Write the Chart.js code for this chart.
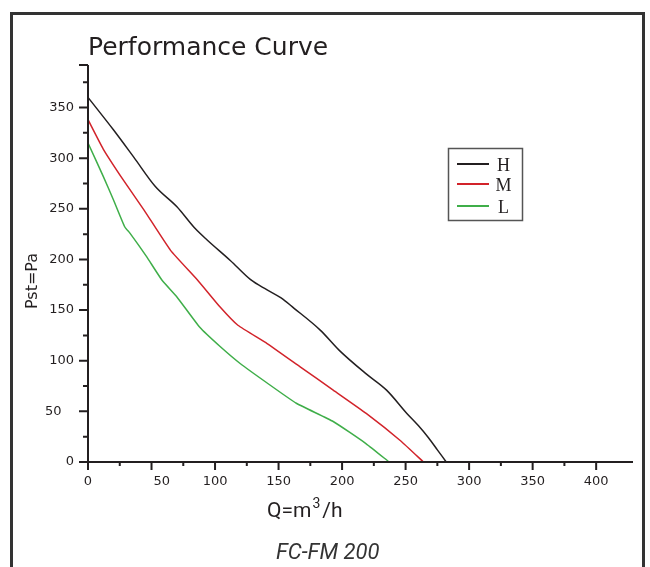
<!DOCTYPE html>
<html>
<head>
<meta charset="utf-8">
<title>Performance Curve</title>
<script src="https://cdn.jsdelivr.net/npm/chart.js@4.4.1/dist/chart.umd.min.js"></script>
<style>
    html, body { margin: 0; padding: 0; background: #fff; overflow: hidden; }
    #frame { position: absolute; left: 10px; top: 12px; width: 629px; height: 600px; border: 3px solid #333; }
    #chart { position: absolute; left: 0; top: 0; }
</style>
</head>
<body>
<div id="frame"></div>
<canvas id="chart" width="650" height="567"></canvas>
<script>
'use strict'

/**
 * Data (Q in m3/h, Pst in Pa)
 */

const flowH  = [0, 20, 36, 53, 70, 84, 94, 112, 128, 141, 152, 162, 183, 198, 219, 235, 251, 260, 268, 275, 282];
const pressH = [360, 328, 301, 272, 252, 231, 219, 199, 180, 170, 162, 152, 130, 110, 87, 71, 48, 36, 24, 12, 0];

const flowM  = [0, 12, 28, 44, 65, 86, 104, 118, 141, 167, 193, 219, 246, 264];
const pressM = [338, 309, 278, 249, 209, 180, 153, 135, 117, 94, 71, 48, 21, 0];

const flowL  = [0, 12, 20, 29, 33, 46, 58, 70, 88, 104, 120, 141, 164, 193, 219, 237];
const pressL = [315, 282, 259, 232, 226, 203, 180, 163, 133, 114, 97, 78, 58, 40, 18, 0];

const xLabels = [0, 50, 100, 150, 200, 250, 300, 350, 400];
const yLabels = [0, 50, 100, 150, 200, 250, 300, 350];

function points(xs, ys) {
    return xs.map(function (v, i) { return {x: v, y: ys[i]}; });
}

/**
 * Plugins: axes with ticks, legend box, titles
 */

const axesPlugin = {
    id: 'axes',
    afterDatasetsDraw(chart) {
        const {ctx, chartArea: a} = chart;
        const x = chart.scales.x, y = chart.scales.y;
        ctx.save();
        ctx.strokeStyle = '#231f20';
        ctx.lineWidth = 2;
        ctx.beginPath();
        ctx.moveTo(a.left, a.top);
        ctx.lineTo(a.left, a.bottom + 1);
        ctx.moveTo(a.left - 1, a.bottom);
        ctx.lineTo(a.right, a.bottom);
        y.ticks.forEach(function (t) {
            const py = y.getPixelForValue(t.value);
            const len = (t.value % 50 === 0 || t.value === y.max) ? 9 : 5;
            ctx.moveTo(a.left - len, py);
            ctx.lineTo(a.left, py);
        });
        x.ticks.forEach(function (t) {
            if (t.value === x.max) return;
            const px = x.getPixelForValue(t.value);
            const len = t.value % 50 === 0 ? 8 : 4;
            ctx.moveTo(px, a.bottom);
            ctx.lineTo(px, a.bottom + len);
        });
        ctx.stroke();
        ctx.restore();
    }
};

const legendPlugin = {
    id: 'boxLegend',
    afterDraw(chart) {
        const ctx = chart.ctx;
        const rows = [164, 184, 206];
        ctx.save();
        ctx.strokeStyle = '#555';
        ctx.lineWidth = 1.5;
        ctx.strokeRect(448.5, 148.5, 74, 72);
        ctx.font = '18px "Liberation Serif"';
        ctx.textAlign = 'center';
        ctx.textBaseline = 'middle';
        chart.data.datasets.forEach(function (ds, i) {
            ctx.strokeStyle = ds.borderColor;
            ctx.lineWidth = 2;
            ctx.beginPath();
            ctx.moveTo(457, rows[i]);
            ctx.lineTo(489, rows[i]);
            ctx.stroke();
            ctx.fillStyle = '#231f20';
            ctx.fillText(ds.label, 503.5, rows[i] + 2);
        });
        ctx.restore();
    }
};

const titlesPlugin = {
    id: 'titles',
    afterDraw(chart) {
        const ctx = chart.ctx;
        ctx.save();
        ctx.fillStyle = '#231f20';
        ctx.textBaseline = 'alphabetic';
        ctx.textAlign = 'left';
        ctx.font = '25px "DejaVu Sans"';
        ctx.fillText('Performance Curve', 88, 55);

        // Q=m3/h with a raised 3
        let px = 267;
        ctx.font = '21px Roboto';
        ctx.fillText('Q=m', px, 517);
        px += ctx.measureText('Q=m').width + 1;
        ctx.font = '14px Roboto';
        ctx.fillText('3', px, 508);
        px += ctx.measureText('3').width + 2;
        ctx.font = '21px Roboto';
        ctx.fillText('/h', px, 517);

        ctx.fillStyle = '#333';
        ctx.font = 'italic 22px Roboto';
        ctx.fillText('FC-FM 200', 276, 559);

        ctx.fillStyle = '#231f20';
        ctx.font = '16px "DejaVu Sans"';
        ctx.translate(37, 281);
        ctx.rotate(-Math.PI / 2);
        ctx.textAlign = 'center';
        ctx.fillText('Pst=Pa', 0, 0);
        ctx.restore();
    }
};

/**
 * Chart
 */

const tickFont = {family: 'DejaVu Sans', size: 13};

new Chart(document.getElementById('chart'), {
    type: 'scatter',
    data: {
        datasets: [{
            label: 'H',
            data: points(flowH, pressH),
            borderColor: '#231f20',
            cubicInterpolationMode: 'monotone'
        }, {
            label: 'M',
            data: points(flowM, pressM),
            borderColor: '#d2232a',
            tension: 0.15
        }, {
            label: 'L',
            data: points(flowL, pressL),
            borderColor: '#3fae49',
            tension: 0.15
        }]
    },
    options: {
        responsive: false,
        animation: false,
        showLine: true,
        elements: {
            point: {radius: 0},
            line: {borderWidth: 1.5, fill: false}
        },
        layout: {padding: {top: 65, right: 17, left: 0, bottom: 0}},
        plugins: {
            legend: {display: false},
            tooltip: {enabled: false}
        },
        scales: {
            x: {
                type: 'linear',
                min: 0,
                max: 429,
                afterFit: function (s) { s.height = 105; },
                grid: {display: false},
                border: {display: false},
                ticks: {
                    stepSize: 25,
                    autoSkip: false,
                    maxRotation: 0,
                    padding: 4,
                    color: '#231f20',
                    font: tickFont,
                    callback: function (v) {
                        if (!xLabels.includes(v)) return '';
                        return v === 50 ? '\u2007\u2007 50' : String(v);
                    }
                }
            },
            y: {
                type: 'linear',
                min: 0,
                max: 392,
                afterFit: function (s) { s.width = 88; },
                grid: {display: false},
                border: {display: false},
                ticks: {
                    stepSize: 25,
                    autoSkip: false,
                    padding: 6,
                    color: '#231f20',
                    font: tickFont,
                    callback: function (v) {
                        if (!yLabels.includes(v)) return '';
                        return v === 50 ? '50\u2007 ' : String(v);
                    }
                }
            }
        }
    },
    plugins: [axesPlugin, legendPlugin, titlesPlugin]
});
</script>
</body>
</html>
